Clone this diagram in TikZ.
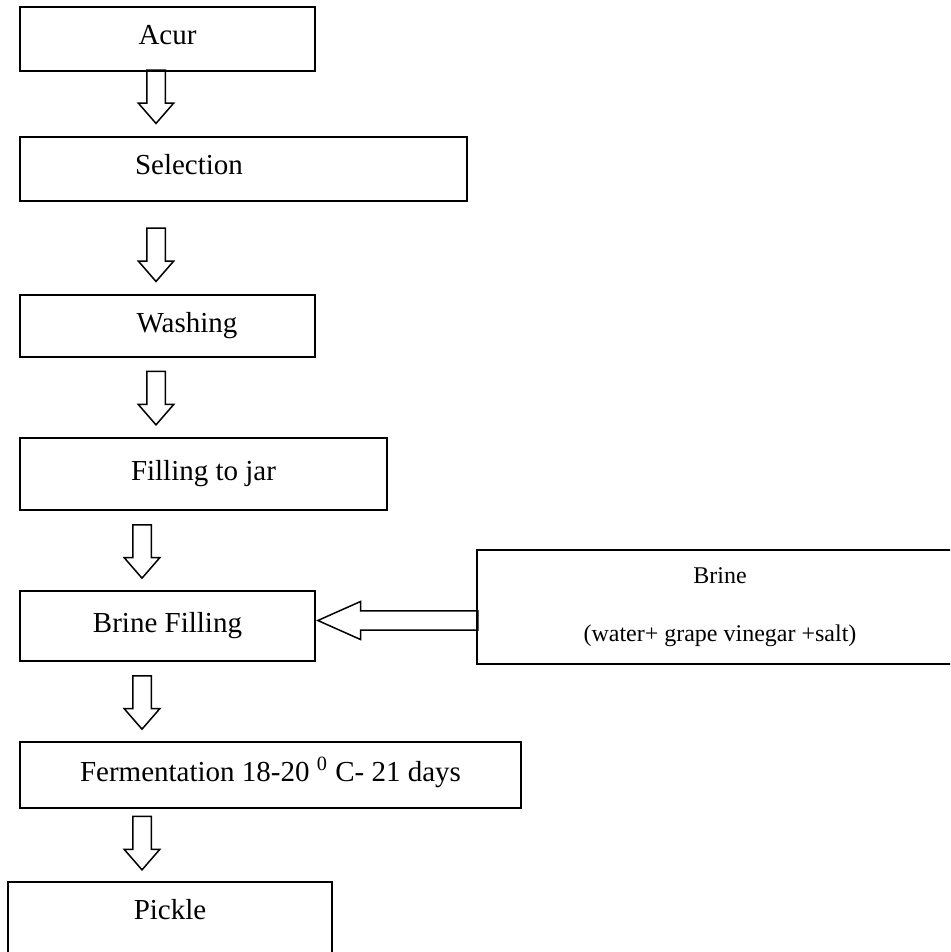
\documentclass[tikz,border=0pt]{standalone}
\usepackage{fontspec}
\setmainfont{Liberation Serif}
\usepackage{tikz}
\usetikzlibrary{calc, shapes.arrows}

\begin{document}
\begin{tikzpicture}[
    x=0.5pt, y=-0.5pt,
    box/.style={draw, line width=1pt, minimum height=32pt, inner sep=0pt, align=center, font=\fontsize{14.5}{17}\selectfont, text height=10pt, text depth=4pt},
    srcbox/.style={draw, line width=1pt, inner sep=0pt, align=center, font=\fontsize{12}{14}\selectfont},
    downarr/.style={draw, single arrow, shape border rotate=270, anchor=tail, line width=0.75pt, inner xsep=4.25pt, inner ysep=0pt, single arrow head extend=4.25pt, single arrow tip angle=82, minimum height=26.7pt},
    leftarr/.style={draw, single arrow, shape border rotate=180, anchor=tip, line width=0.75pt, inner xsep=0pt, inner ysep=4.4pt, single arrow head extend=4.75pt, single arrow tip angle=48, minimum height=80pt},
]
\useasboundingbox (0,0) rectangle (950,952);
\clip (0,0) rectangle (950,952);

% ===== Process steps =====
\node[box, minimum width=147.5pt] (acur) at (167.5,39) {Acur};
\node[box, minimum width=223.5pt] (sel) at (243.5,169) {Selection\hspace*{54.5pt}};
\node[box, minimum width=147.5pt, minimum height=31pt] (wash) at (167.5,326) {\hspace*{19.5pt}Washing};
\node[box, minimum width=183.5pt, minimum height=36pt] (jar) at (203.5,474) {Filling to jar};
\node[box, minimum width=147.5pt, minimum height=35pt] (fill) at (167.5,626) {Brine Filling};
\node[box, minimum width=250.5pt, minimum height=33pt] (ferm) at (270.5,775) {Fermentation 18-20 \textsuperscript{0} C- 21 days};
\node[box, minimum width=162pt, anchor=north, inner ysep=8.5pt, text depth=30pt] (pickle) at (170,881) {Pickle};

% ===== Brine input =====
\node[srcbox, minimum width=243pt, minimum height=57pt] (brine) at (720,607) {Brine\\[15.3pt](water+ grape vinegar +salt)};

% ===== Block arrows =====
\node[downarr] (a1) at (156,69.3) {};
\node[downarr] (a2) at (156,227.3) {};
\node[downarr] (a3) at (156,370.7) {};
\node[downarr] (a4) at (142,524) {};
\node[downarr] (a5) at (142,675) {};
\node[downarr] (a6) at (142,815.7) {};

\node[leftarr] (brarr) at ($(fill.east)+(0,-5.5)$) {};

\end{tikzpicture}
\end{document}
